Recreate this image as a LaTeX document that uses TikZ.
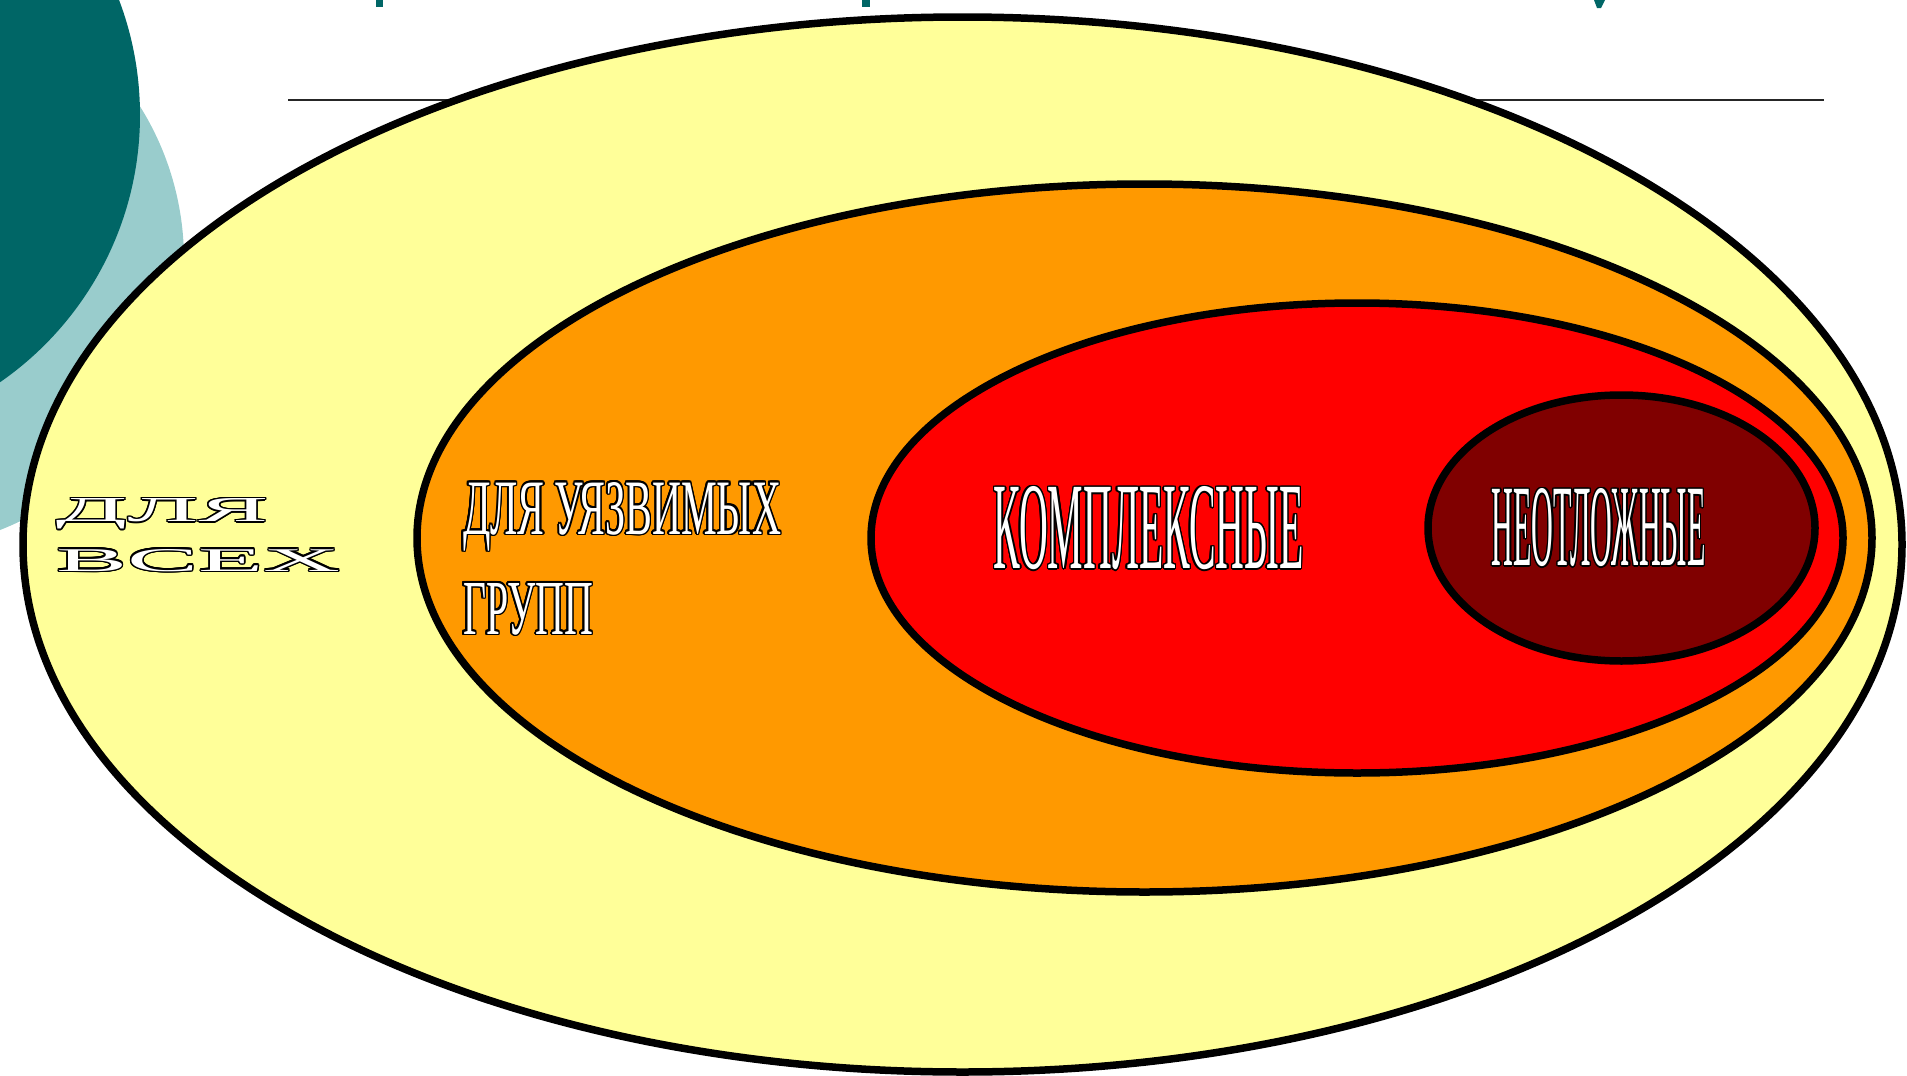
\documentclass[tikz,border=0pt]{standalone}
\usepackage{fontspec}
\setmainfont{Liberation Serif}
\usepackage{contour}
\contourlength{1.5pt}
\definecolor{tealdark}{HTML}{006666}
\definecolor{teallight}{HTML}{99CCCC}
\definecolor{ringyellow}{HTML}{FFFF99}
\definecolor{ringorange}{HTML}{FF9900}
\definecolor{ringred}{HTML}{FF0000}
\definecolor{ringdark}{HTML}{800000}
\newcommand{\wartxt}[3]{\contour{black}{\resizebox{#1pt}{#2pt}{#3}}}
\begin{document}
\begin{tikzpicture}[x=1pt,y=-1pt,
  ring/.style={draw=black, line width=7.5pt},
  wordart/.style={anchor=base west, inner sep=0pt, outer sep=0pt, text=white}]
\useasboundingbox (0,0) rectangle (1907,1076);
\clip (0,0) rectangle (1907,1076);
% decorative circles
\fill[teallight] (-106,260) circle [radius=290];
\fill[tealdark] (-185,115) circle [radius=325];
% title remnants
\fill[tealdark] (376,0) rectangle (383,7);
\fill[tealdark] (862,0) rectangle (870,7);
\fill[tealdark] (1594,0) -- (1605,0) -- (1601,8) -- (1597,8) -- cycle;
% rule
\draw[black!85, line width=2pt] (288,100) -- (1824,100);
% rings
\draw[ring, fill=ringyellow] (962.5,544.5) ellipse [x radius=939.5, y radius=527.5];
\draw[ring, fill=ringorange] (1144.5,538) ellipse [x radius=727.5, y radius=354];
\draw[ring, fill=ringred] (1357,538) ellipse [x radius=486, y radius=235];
\draw[ring, fill=ringdark] (1621.5,528) ellipse [x radius=193.5, y radius=133];
% labels
\node[wordart] (all1) at (56,521.5) {\wartxt{212}{23}{ДЛЯ}};
\node[wordart] (all2) at (56,571) {\wartxt{284}{22}{ВСЕХ}};
\node[wordart] (vul1) at (463,534) {\wartxt{318}{52}{ДЛЯ УЯЗВИМЫХ}};
\node[wordart] (vul2) at (463,634) {\wartxt{130}{51}{ГРУПП}};
\node[wordart] (comp) at (993.5,568.5) {\wartxt{310}{82}{КОМПЛЕКСНЫЕ}};
\node[wordart] (urg) at (1491.5,565.5) {\wartxt{214}{77}{НЕОТЛОЖНЫЕ}};
\end{tikzpicture}
\end{document}
